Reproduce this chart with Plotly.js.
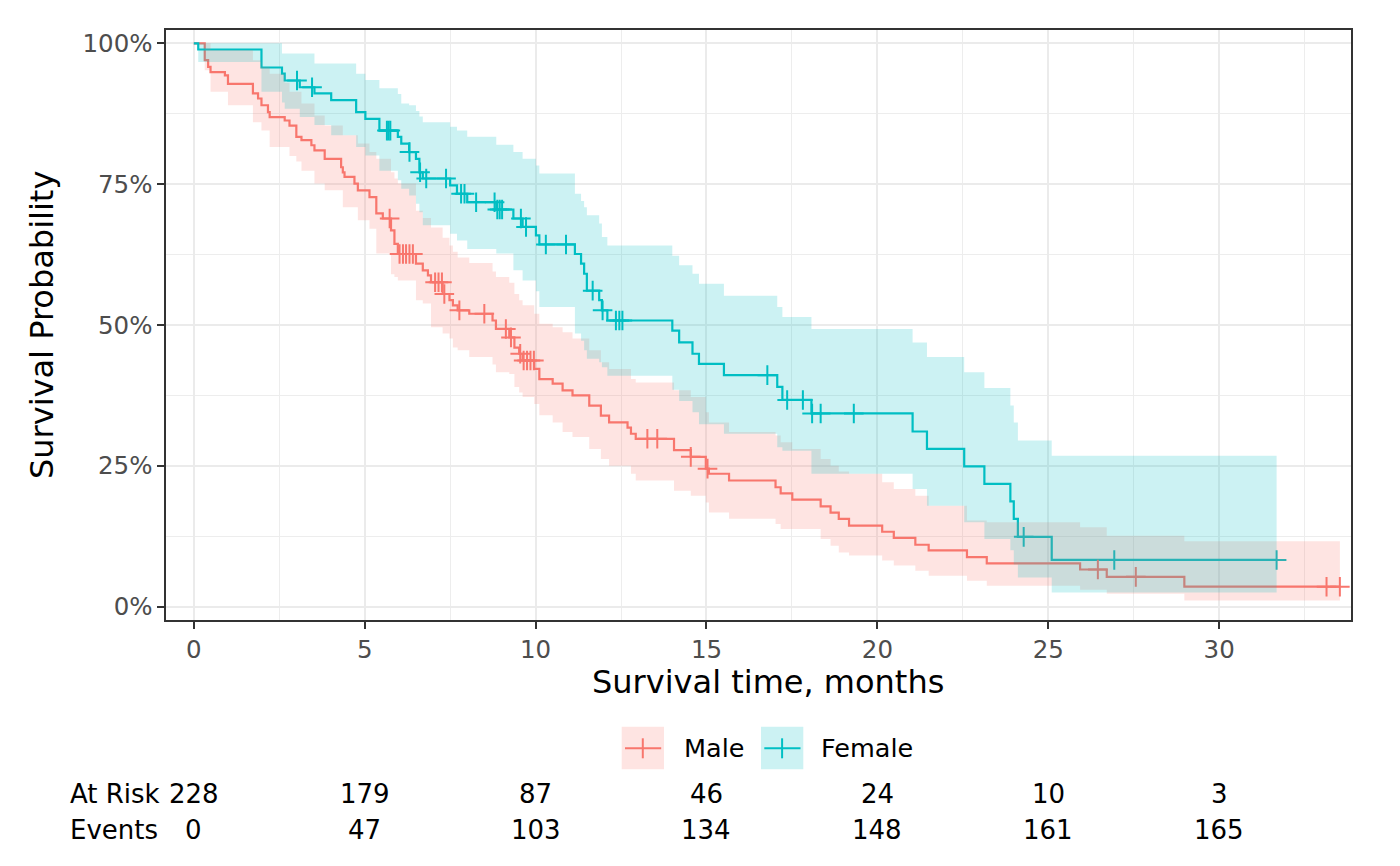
<!DOCTYPE html>
<html>
<head>
<meta charset="utf-8">
<script src="https://cdn.plot.ly/plotly-3.0.1.min.js"></script>
<style>body{margin:0;background:#fff;} #chart{width:1400px;height:866px;}</style>
</head>
<body>
<div id="chart"></div>
<script>
// ---- Male (sex = 1) Kaplan-Meier steps (time in months, survival) ----
const maleTime = [0,0.32,0.42,0.49,0.91,1.0,1.73,1.88,1.98,2.17,2.22,2.66,2.8,3.0,3.15,3.44,3.53,3.83,4.31,4.36,4.41,4.7,4.8,5.14,5.34,5.53,5.77,5.87,5.97,6.5,6.7,6.85,6.94,7.28,7.48,7.58,7.72,8.06,8.74,8.84,9.23,9.38,9.52,9.62,9.96,10.11,10.5,10.79,11.08,11.57,11.91,12.15,12.69,12.79,12.93,14.05,14.54,14.98,15.07,15.66,17.02,17.17,17.51,18.34,18.63,18.87,19.17,20.14,20.48,21.11,21.5,22.62,23.2,25.93,26.71,28.98];
const maleSurv = [1,0.970,0.958,0.949,0.943,0.928,0.911,0.902,0.890,0.878,0.869,0.863,0.854,0.834,0.828,0.819,0.810,0.795,0.780,0.771,0.763,0.751,0.739,0.727,0.698,0.689,0.668,0.644,0.626,0.609,0.597,0.588,0.576,0.555,0.544,0.535,0.526,0.520,0.508,0.493,0.478,0.460,0.449,0.437,0.422,0.404,0.396,0.384,0.375,0.357,0.339,0.327,0.318,0.307,0.298,0.278,0.266,0.245,0.236,0.224,0.212,0.201,0.190,0.178,0.167,0.156,0.144,0.133,0.122,0.110,0.100,0.088,0.077,0.066,0.053,0.0355];
const maleEnd = 33.53;
const maleCensor = [5.73,6.02,6.12,6.21,6.31,6.41,7.06,7.16,7.26,7.33,7.77,8.5,9.13,9.28,9.55,9.65,9.75,9.85,9.95,13.27,13.56,14.54,15.03,26.45,27.56,33.14,33.53];
const maleBandTime = [0,0.32,0.49,1.0,1.73,1.98,2.22,2.66,2.8,3.0,3.15,3.53,3.83,4.36,4.8,5.14,5.34,5.77,5.87,5.97,6.5,6.7,6.94,7.28,7.48,7.58,7.72,8.06,8.74,8.84,9.23,9.38,9.52,9.62,9.96,10.11,10.5,10.79,11.08,11.57,11.91,12.15,12.79,12.93,14.05,14.54,14.98,15.07,15.66,17.02,17.17,17.51,18.34,18.63,18.87,19.17,20.14,20.48,21.11,21.5,22.62,23.2,25.93,26.71,28.98];
const maleUpper = [1,1.0,0.988,0.988,0.97,0.958,0.946,0.93,0.914,0.914,0.893,0.872,0.854,0.837,0.822,0.807,0.795,0.771,0.76,0.751,0.703,0.69,0.673,0.655,0.641,0.63,0.62,0.61,0.595,0.585,0.575,0.555,0.544,0.535,0.52,0.502,0.496,0.487,0.476,0.455,0.434,0.422,0.404,0.398,0.384,0.372,0.345,0.327,0.31,0.304,0.292,0.28,0.262,0.25,0.24,0.236,0.221,0.209,0.197,0.179,0.153,0.150,0.141,0.126,0.116];
const maleLower = [1,0.952,0.914,0.89,0.86,0.845,0.816,0.816,0.80,0.79,0.774,0.751,0.739,0.709,0.686,0.671,0.627,0.59,0.585,0.579,0.544,0.538,0.496,0.485,0.476,0.46,0.455,0.443,0.43,0.416,0.413,0.39,0.38,0.372,0.36,0.34,0.327,0.31,0.301,0.28,0.262,0.25,0.236,0.224,0.206,0.197,0.185,0.167,0.156,0.147,0.138,0.138,0.12,0.108,0.096,0.091,0.082,0.073,0.064,0.055,0.046,0.037,0.03,0.023,0.011];

// ---- Female (sex = 2) ----
const femaleTime = [0,0.13,1.98,2.58,2.66,3.1,3.53,4.02,4.75,5.02,5.43,5.97,6.07,6.3,6.5,6.6,6.7,7.5,7.7,8.0,8.85,9.35,9.62,10.01,10.11,11.15,11.33,11.42,11.5,11.86,11.94,12.1,14.0,14.2,14.59,14.78,15.51,17.07,17.22,18.07,21.03,21.45,22.54,23.13,23.89,23.99,24.11,25.1];
const femaleSurv = [1,0.989,0.957,0.946,0.934,0.922,0.911,0.899,0.878,0.866,0.845,0.834,0.822,0.807,0.795,0.771,0.760,0.748,0.733,0.718,0.705,0.689,0.674,0.659,0.643,0.626,0.609,0.591,0.561,0.544,0.526,0.508,0.490,0.469,0.449,0.431,0.411,0.390,0.367,0.343,0.311,0.280,0.249,0.218,0.187,0.156,0.124,0.083];
const femaleEnd = 31.68;
const femaleCensor = [3.02,3.46,5.65,5.7,5.75,6.31,6.62,6.8,7.38,7.82,7.92,8.26,8.8,8.88,8.95,9.02,9.57,9.72,10.3,10.89,11.67,11.96,12.35,12.45,12.54,16.78,17.36,17.82,18.09,18.34,19.31,24.28,26.93,31.68];
const femaleUpper = [1,1,1,0.982,0.982,0.982,0.964,0.964,0.946,0.935,0.92,0.91,0.893,0.89,0.88,0.87,0.86,0.852,0.845,0.834,0.82,0.807,0.795,0.783,0.769,0.733,0.72,0.709,0.695,0.68,0.656,0.641,0.623,0.606,0.591,0.573,0.552,0.532,0.514,0.493,0.469,0.443,0.416,0.388,0.357,0.327,0.295,0.268];
const femaleLower = [1,0.967,0.914,0.895,0.884,0.869,0.855,0.837,0.816,0.801,0.774,0.757,0.742,0.73,0.715,0.70,0.677,0.662,0.65,0.635,0.627,0.597,0.579,0.56,0.532,0.485,0.472,0.455,0.44,0.434,0.425,0.41,0.385,0.365,0.345,0.324,0.307,0.283,0.277,0.236,0.209,0.179,0.15,0.12,0.10,0.075,0.052,0.025];

// ---- Axis ticks and risk table ----
const xTickVals = [0,5,10,15,20,25,30];
const yTickVals = [0,0.25,0.5,0.75,1];
const yTickText = ['0%','25%','50%','75%','100%'];
const groupNames = ['Male','Female'];
const atRisk = [228,179,87,46,24,10,3];
const events = [0,47,103,134,148,161,165];

const RED = '#F8766D', CYAN = '#00BFC4';
const RED_FILL = 'rgba(248,118,109,0.2)', CYAN_FILL = 'rgba(0,191,196,0.2)';

function stepPath(ts, vs, tEnd){
  const xs=[], ys=[];
  for(let i=0;i<ts.length;i++){
    const x1 = i+1<ts.length ? ts[i+1] : tEnd;
    xs.push(ts[i], x1); ys.push(vs[i], vs[i]);
  }
  return {xs, ys};
}
function band(ts, up, lo, tEnd){
  const u = stepPath(ts, up, tEnd), l = stepPath(ts, lo, tEnd);
  return {x: u.xs.concat(l.xs.slice().reverse()), y: u.ys.concat(l.ys.slice().reverse())};
}
function survAt(ts, vs, c){
  let v = vs[0];
  for(let i=0;i<ts.length;i++){ if(ts[i] <= c) v = vs[i]; }
  return v;
}
function lineTrace(ts, vs, tEnd, color){
  return {x: ts.concat([tEnd]), y: vs.concat([vs[vs.length-1]]), mode:'lines',
    line:{shape:'hv', color:color, width:2.2}, hoverinfo:'skip', showlegend:false};
}
function censorTrace(cs, ts, vs, color){
  return {x: cs, y: cs.map(c => survAt(ts, vs, c)), mode:'markers',
    marker:{symbol:'cross-thin', size:14, color:color, line:{color:color, width:2}},
    hoverinfo:'skip', showlegend:false};
}
function bandTrace(b, fill){
  return {x:b.x, y:b.y, mode:'lines', fill:'toself', fillcolor:fill, line:{width:0, color:'rgba(0,0,0,0)'},
    hoverinfo:'skip', showlegend:false};
}

const traces = [
  lineTrace(maleTime, maleSurv, maleEnd, RED),
  lineTrace(femaleTime, femaleSurv, femaleEnd, CYAN),
  censorTrace(maleCensor, maleTime, maleSurv, RED),
  censorTrace(femaleCensor, femaleTime, femaleSurv, CYAN),
  bandTrace(band(maleBandTime, maleUpper, maleLower, maleEnd), RED_FILL),
  bandTrace(band(femaleTime, femaleUpper, femaleLower, femaleEnd), CYAN_FILL)
];

// layout pixel helpers (plot area: x 166..1351, y 30..620)
const L=166, R=1351, T=30, B=620;
const PX = p => (p - L)/(R - L);
const PY = p => (B - p)/(B - T);

const shapes = [];
const annotations = [];
const TXT = (size) => ({family:'DejaVu Sans', size:size, color:'#000000'});
// legend keys
const keys = [{x0:621.7, color:RED, fill:RED_FILL, tx:681.5}, {x0:761, color:CYAN, fill:CYAN_FILL, tx:819}];
keys.forEach((k, i) => {
  shapes.push({type:'rect', xref:'paper', yref:'paper', x0:PX(k.x0), x1:PX(k.x0+42.3), y0:PY(769.3), y1:PY(726.7), fillcolor:k.fill, line:{width:0}});
  shapes.push({type:'line', xref:'paper', yref:'paper', x0:PX(k.x0+3.3), x1:PX(k.x0+39.5), y0:PY(748.3), y1:PY(748.3), line:{color:k.color, width:2}});
  shapes.push({type:'line', xref:'paper', yref:'paper', x0:PX(k.x0+21.1), x1:PX(k.x0+21.1), y0:PY(758.3), y1:PY(738.3), line:{color:k.color, width:2}});
  annotations.push({xref:'paper', yref:'paper', x:PX(k.tx), y:PY(748), xanchor:'left', yanchor:'middle', showarrow:false,
    text:groupNames[i], font:TXT(25.5)});
});
// risk table
annotations.push({xref:'paper', yref:'paper', x:PX(67.5), y:PY(794), xanchor:'left', yanchor:'middle', showarrow:false, text:'At Risk', font:TXT(26)});
annotations.push({xref:'paper', yref:'paper', x:PX(67.5), y:PY(830), xanchor:'left', yanchor:'middle', showarrow:false, text:'Events', font:TXT(26)});
xTickVals.forEach((t, i) => {
  annotations.push({xref:'x', yref:'paper', x:t, y:PY(794), xanchor:'center', yanchor:'middle', showarrow:false, text:String(atRisk[i]), font:TXT(26)});
  annotations.push({xref:'x', yref:'paper', x:t, y:PY(830), xanchor:'center', yanchor:'middle', showarrow:false, text:String(events[i]), font:TXT(26)});
});
// axis titles
annotations.push({xref:'paper', yref:'paper', x:PX(768.3), y:PY(660.5), xanchor:'center', yanchor:'top', showarrow:false, text:'Survival time, months', font:TXT(32)});
annotations.push({xref:'paper', yref:'paper', x:PX(42), y:PY(325), xanchor:'center', yanchor:'middle', showarrow:false, textangle:-90, text:'Survival Probability', font:TXT(32)});

const axisCommon = {
  ticks:'outside', ticklen:7, tickwidth:2, tickcolor:'#333333',
  showline:true, mirror:true, linecolor:'#333333', linewidth:1.6,
  showgrid:true, gridcolor:'#EBEBEB', gridwidth:2, zeroline:false,
  tickfont:{family:'DejaVu Sans', size:24.5, color:'#4D4D4D'}
};
const layout = {
  width:1400, height:866,
  margin:{l:L, r:1400-R, t:T, b:866-B, pad:0},
  paper_bgcolor:'#ffffff', plot_bgcolor:'#ffffff',
  font:{family:'DejaVu Sans', color:'#4D4D4D'},
  showlegend:false,
  xaxis:Object.assign({}, axisCommon, {range:[-0.813, 33.856], tickmode:'array', tickvals:xTickVals,
    minor:{dtick:2.5, tick0:0, showgrid:true, gridcolor:'#EDEDED', gridwidth:1, ticks:''}}),
  yaxis:Object.assign({}, axisCommon, {range:[-0.0236, 1.0236], tickmode:'array', tickvals:yTickVals, ticktext:yTickText,
    minor:{dtick:0.125, tick0:0, showgrid:true, gridcolor:'#EDEDED', gridwidth:1, ticks:''}}),
  shapes:shapes,
  annotations:annotations
};
Plotly.newPlot('chart', traces, layout, {displayModeBar:false, staticPlot:true});
</script>
</body>
</html>
